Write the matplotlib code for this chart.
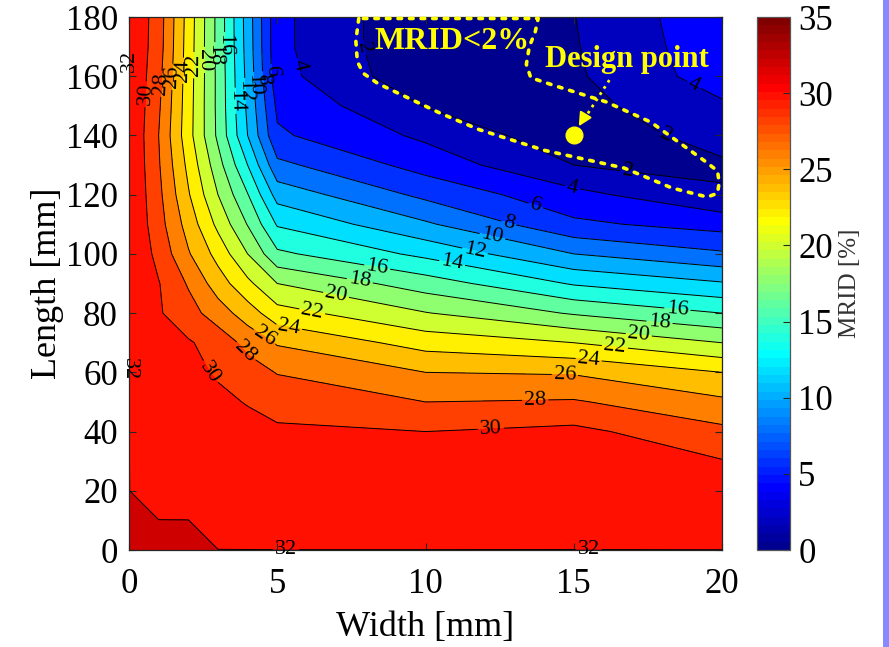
import numpy as np
import matplotlib
matplotlib.use('Agg')
import matplotlib.pyplot as plt
from matplotlib.colors import ListedColormap, Normalize
from matplotlib.cm import ScalarMappable
from matplotlib.patches import Rectangle

plt.rcParams['font.family'] = ['Liberation Serif', 'DejaVu Serif']

# grid of the parameter sweep
width = [0, 1, 2, 3, 4, 5, 10, 15, 20]
length = [0, 10, 20, 30, 40, 50, 60, 70, 80, 90, 100, 110, 120, 130, 140, 150, 160, 170, 180]

# MRID [%], one row per length, one column per width
mrid = [
    [33.6, 33.0, 32.6, 32.005, 32.005, 32.005, 32.005, 32.005, 32.005],
    [33.0, 32.005, 32.005, 31.8, 31.7, 31.6, 31.6, 31.7, 31.5],
    [32.005, 31.8, 31.7, 31.6, 31.5, 31.4, 31.3, 31.4, 30.8],
    [32.005, 31.7, 31.5, 31.3, 31.1, 30.9, 30.8, 31.0, 30.1],
    [32.005, 31.5, 31.2, 30.9, 30.6, 30.3, 30.0, 30.5, 28.5],
    [32.005, 31.3, 30.9, 30.4, 29.9, 29.3, 28.0, 28.2, 26.4],
    [32.005, 31.1, 30.5, 29.8, 28.9, 27.9, 26.0, 25.8, 24.0],
    [32.005, 30.9, 30.2, 29.2, 27.4, 25.8, 23.2, 22.0, 20.0],
    [32.005, 30.2, 28.8, 27.0, 25.0, 22.8, 20.1, 17.8, 16.0],
    [32.005, 30.1, 27.8, 25.0, 22.5, 20.0, 17.0, 13.8, 12.2],
    [32.005, 29.4, 26.2, 23.3, 20.0, 16.4, 13.5, 10.0, 8.3],
    [32.005, 28.8, 25.2, 21.5, 17.9, 13.8, 10.3, 6.4, 5.2],
    [32.005, 28.5, 24.2, 20.0, 16.1, 11.2, 7.5, 4.6, 2.2],
    [32.005, 28.2, 23.5, 18.8, 14.0, 8.5, 5.2, 2.0, 1.7],
    [32.005, 28.0, 22.8, 17.6, 12.0, 6.3, 3.6, 0.7, 2.8],
    [32.005, 28.3, 22.9, 17.5, 11.6, 5.6, 1.9, 1.3, 3.7],
    [32.005, 28.6, 23.0, 17.5, 11.4, 4.7, 0.5, 1.7, 5.0],
    [32.005, 28.9, 23.1, 17.4, 11.2, 4.5, 0.2, 1.85, 5.3],
    [32.005, 29.0, 23.2, 17.4, 11.1, 4.5, 0.2, 1.95, 5.5],
]

design_point = (15, 140)

# hand drawn outline of the MRID<2% zone
zone_x = [7.75, 7.65, 7.7, 7.9, 8.4, 10.5, 11.8, 14.0, 16.7, 18.3, 19.5, 19.85, 19.9, 19.85,
          19.4, 17.6, 16.1, 14.3, 13.55, 13.4, 13.5, 13.7, 13.8, 7.75]
zone_y = [179.5, 172, 165, 161, 157.5, 147.5, 142, 135, 129, 122.3, 119.2, 120.5, 124, 128,
          131.5, 144.5, 151.3, 157, 159.5, 164, 170, 175, 179.5, 179.5]

# where the contour labels sit (as in the original figure)
label_pos = {
    32: [(0, 165), (0, 61), (5.3, 0), (15.5, 0)],
    30: [(0.4, 154), (2.55, 59), (12.2, 41)],
    28: [(0.6, 157.7), (3.7, 65), (13.7, 50.7)],
    26: [(0.95, 160), (4.5, 70.9), (14.7, 59)],
    24: [(1.25, 162), (5.4, 75.3), (15.5, 64)],
    22: [(1.6, 163.8), (6.2, 81.7), (16.4, 70)],
    20: [(1.95, 165.5), (7.0, 87), (17.2, 73.5)],
    18: [(2.25, 167), (7.8, 92), (17.9, 78)],
    16: [(2.75, 170.5), (8.4, 97.3), (18.5, 82)],
    14: [(3.5, 151.7), (10.9, 97)],
    12: [(3.9, 155), (11.7, 102.5)],
    10: [(4.15, 157), (12.3, 108)],
    8: [(4.4, 159), (12.9, 114)],
    6: [(4.7, 161.5), (13.8, 119)],
    4: [(5.8, 163.8), (15, 124.3), (19, 156)],
    2: [(7.7, 168.9), (16.8, 126), (18.1, 139.5)],
}


def matlab_jet(m=64):
    # same construction as MATLAB's jet(m)
    n = int(np.ceil(m / 4))
    u = np.concatenate([np.arange(1, n + 1) / n, np.ones(n - 1), np.arange(n, 0, -1) / n])
    g = int(np.ceil(n / 2)) - (1 if m % 4 == 1 else 0) + np.arange(1, len(u) + 1)
    r = g + n
    b = g - n
    J = np.zeros((m, 3))
    J[r[r <= m] - 1, 0] = u[r <= m]
    J[g[g <= m] - 1, 1] = u[g <= m]
    J[b[b >= 1] - 1, 2] = u[b >= 1]
    return ListedColormap(J)


cmap = matlab_jet()
norm = Normalize(0, 35)
levels = np.arange(0, 36, 2)
# MATLAB fills each band with the colour of its lower level
band_colors = [cmap(norm(v)) for v in levels[:-1]]

W, L = np.meshgrid(width, length)
Z = np.array(mrid)

dark = '#262626'
yellow = '#ffff00'

fig = plt.figure(figsize=(8.89, 6.47), dpi=100)
ax = fig.add_axes([0.1451, 0.1499, 0.6671, 0.8238])
cax = fig.add_axes([0.8515, 0.1499, 0.0371, 0.8238])

ax.contourf(W, L, Z, levels=levels, colors=band_colors)
ax.set_xlim(0, 20)
ax.set_ylim(0, 180)

# one contour set per level so each label goes on its own line
for lev, pts in label_pos.items():
    cs = ax.contour(W, L, Z, levels=[lev], colors='k', linewidths=0.7)
    txts = cs.clabel(manual=pts, fmt='%d', fontsize=16, inline=True,
                     inline_spacing=2, colors='k')
    for t in txts:
        t.set_clip_on(False)

# annotations
ax.plot(zone_x, zone_y, color=yellow, lw=2.6, linestyle=(0, (1.0, 2.2)),
        dash_capstyle='round', clip_on=False, zorder=5)
ax.plot(*design_point, 'o', color=yellow, markersize=12, zorder=6)
ax.plot([16.2, 15.35], [158.7, 145.5], color=yellow, lw=2, linestyle=':', zorder=6)
ax.annotate('', xy=(15.12, 142.3), xytext=(15.4, 147.0),
            arrowprops=dict(arrowstyle='-|>', color=yellow, lw=1.5, mutation_scale=20), zorder=6)
ax.text(10.9, 171.6, 'MRID<2%', color=yellow, fontsize=23, fontweight='bold',
        ha='center', va='center', zorder=7)
ax.text(16.8, 165.5, 'Design point', color=yellow, fontsize=22, fontweight='bold',
        ha='center', va='center', zorder=7)

ax.set_xticks([0, 5, 10, 15, 20])
ax.set_yticks(np.arange(0, 181, 20))
ax.tick_params(direction='in', top=True, right=True, length=5, width=0.8,
               labelsize=25, colors=dark, labelcolor='k')
ax.tick_params(axis='x', pad=13)
ax.tick_params(axis='y', pad=8)
for sp in ax.spines.values():
    sp.set_color(dark)
    sp.set_linewidth(0.9)
ax.set_xlabel('Width [mm]', fontsize=26, labelpad=7)
ax.set_ylabel('Length [mm]', fontsize=26, labelpad=1)

cb = fig.colorbar(ScalarMappable(norm=norm, cmap=cmap), cax=cax)
cb.set_ticks(np.arange(0, 36, 5))
cb.ax.tick_params(direction='in', length=5, width=0.8, labelsize=25, colors=dark,
                  labelcolor='k', pad=6)
cb.outline.set_edgecolor('#555555')
cb.outline.set_linewidth(0.9)
cb.set_label('MRID [%]', fontsize=18, color='#333333', labelpad=4)

# coloured strip on the right border of the original image
fig.add_artist(Rectangle((883 / 889, 0), 6 / 889, 1, transform=fig.transFigure,
                         color='#8888ff', lw=0))

fig.savefig('out.png', dpi=100)
